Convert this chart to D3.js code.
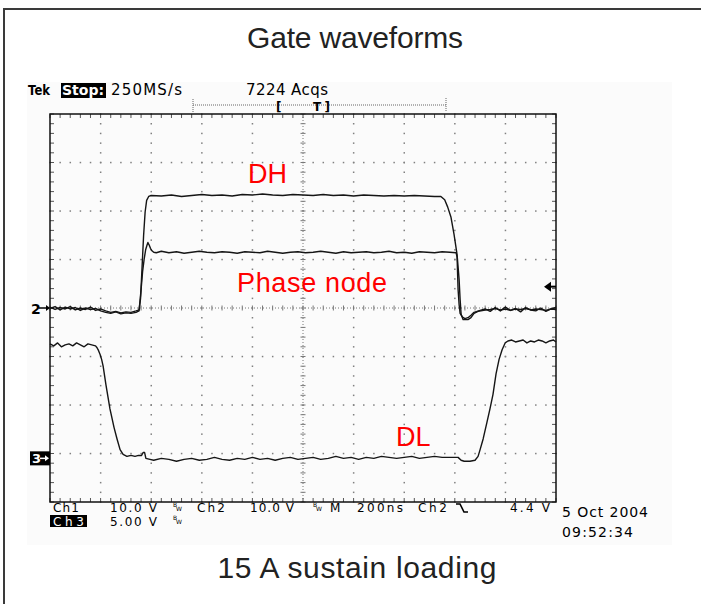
<!DOCTYPE html>
<html><head><meta charset="utf-8">
<script src="https://cdn.jsdelivr.net/npm/d3@7"></script>
<style>html,body{margin:0;padding:0;background:#fff;} svg{display:block}</style>
</head><body>
<svg id="c" width="701" height="604"></svg>
<script>
// ---- Data (time in ns, voltage in V) ----
const timeDomain = [0, 2000];          // 200 ns/div, 10 divisions
const divDomain = [-4, 4];             // 8 vertical divisions
const voltsPerDiv = {ch1: 10, ch2: 10, ch3: 5};
const groundDiv = {ch1: 0, ch2: 0, ch3: -3.1};
const triggerLevel = 4.4;              // V on Ch2

// DH (Ch1, high-side gate)
const dhTrace = [
 [0,0.2],[20,-0.3],[40,0.1],[60,-0.2],[80,0.3],[100,-0.4],[120,0.0],[140,-0.3],[160,0.2],[180,-0.5],
 [200,-0.2],[220,-0.6],[240,-0.9],[260,-0.7],[280,-1.0],[300,-0.8],[320,-0.9],[340,-0.6],
 [352,-0.4],[358,2.0],[364,8.5],[370,15.0],[376,19.8],[382,22.2],[390,23.0],[400,23.2],
 [440,23.1],[480,23.3],[520,23.0],[560,23.2],[600,23.4],[640,23.2],[680,23.3],[720,23.1],[760,23.4],[800,23.3],
 [840,23.5],[880,23.3],[920,23.2],[960,23.4],[1000,23.3],[1040,23.2],[1080,23.4],[1120,23.2],[1160,23.3],[1200,23.1],
 [1240,23.3],[1280,23.2],[1320,23.1],[1360,23.2],[1400,23.1],[1440,23.2],[1480,23.1],[1520,23.0],
 [1545,23.0],[1560,22.3],[1572,20.8],[1585,18.7],[1597,15.2],[1609,11.0],[1617,5.9],[1621,1.8],[1625,-1.3],
 [1633,-2.4],[1652,-2.4],[1664,-2.0],[1676,-1.1],[1692,-0.7],[1720,-0.4],
 [1740,-0.3],[1760,-0.1],[1780,-0.4],[1800,-0.2],[1820,-0.5],[1840,-0.2],[1860,-0.3],[1880,-0.1],[1900,-0.4],
 [1920,-0.2],[1940,-0.3],[1960,-0.5],[1980,-0.2],[2000,-0.3]
];
// Phase node (Ch2)
const phaseTrace = [
 [0,-0.1],[20,0.3],[40,-0.4],[60,0.2],[80,-0.2],[100,0.1],[120,-0.5],[140,0.0],[160,-0.3],[180,-0.1],
 [200,-0.6],[220,-0.9],[240,-1.1],[260,-0.8],[280,-1.2],[300,-1.0],[320,-1.1],[340,-0.9],
 [352,-0.6],[360,3.8],[366,7.5],[372,10.0],[378,12.0],[383,12.9],[387,13.5],[392,13.0],[397,12.3],[403,11.8],[410,11.5],[420,11.4],
 [440,11.7],[470,11.4],[500,11.6],[530,11.3],[560,11.5],[590,11.7],[620,11.5],[650,11.4],[680,11.6],[710,11.5],
 [740,11.3],[770,11.6],[800,11.5],[830,11.4],[860,11.7],[890,11.5],[920,11.3],[950,11.5],[980,11.6],[1010,11.4],
 [1040,11.5],[1070,11.7],[1100,11.5],[1130,11.3],[1160,11.6],[1190,11.4],[1220,11.5],[1250,11.6],[1280,11.4],[1310,11.5],
 [1340,11.7],[1370,11.4],[1400,11.5],[1430,11.3],[1460,11.6],[1490,11.5],[1520,11.4],[1550,11.6],[1580,11.5],
 [1605,11.4],[1609,10.5],[1613,3.8],[1617,0.7],[1621,-1.1],[1629,-1.8],[1640,-2.2],[1652,-2.0],[1664,-1.5],[1676,-0.9],[1700,-0.5],
 [1720,-0.2],[1740,-0.7],[1760,0.1],[1780,-0.6],[1800,0.2],[1820,-0.5],[1840,-0.1],[1860,-0.8],[1880,0.1],[1900,-0.4],
 [1920,-0.6],[1940,0.0],[1960,-0.7],[1980,-0.2],[2000,0.1]
];
// DL (Ch3, low-side gate)
const dlTrace = [
 [0,11.8],[15,11.6],[30,11.9],[45,11.5],[60,11.7],[75,11.8],[90,11.6],[105,11.9],[120,11.7],[135,11.5],[150,11.8],[165,11.7],[180,11.6],
 [186,11.4],[192,11.1],[198,10.7],[204,10.2],[210,9.5],[221,7.6],[237,5.1],[253,3.2],[265,2.0],[277,0.9],[289,0.4],
 [304,0.2],[320,0.3],[336,0.2],[350,0.3],[362,0.3],[368,0.6],[374,0.6],[379,0.0],[395,-0.1],
 [410,-0.2],[440,0.0],[470,-0.1],[500,-0.3],[530,-0.1],[560,0.0],[590,-0.2],[620,-0.1],[650,0.1],[680,-0.1],
 [710,-0.2],[740,0.0],[770,-0.1],[800,0.1],[830,-0.1],[860,0.0],[890,-0.2],[920,0.0],[950,0.1],[980,-0.1],
 [1010,0.0],[1040,0.1],[1070,-0.1],[1100,0.0],[1130,0.2],[1160,0.0],[1190,0.1],[1220,-0.1],[1250,0.1],[1280,0.0],
 [1310,0.2],[1340,0.1],[1370,0.0],[1400,0.1],[1430,0.2],[1460,0.0],[1490,0.1],[1520,0.2],[1550,0.1],[1580,0.1],
 [1605,0.1],[1613,0.1],[1625,-0.2],[1637,-0.3],[1660,-0.3],[1680,-0.2],[1692,0.2],[1700,0.9],[1712,2.0],[1727,3.7],
 [1739,5.1],[1751,6.6],[1763,8.7],[1775,10.2],[1787,11.2],[1799,11.9],[1810,12.1],
 [1825,12.2],[1840,12.0],[1855,12.1],[1870,12.2],[1885,11.9],[1900,12.1],[1915,12.0],[1930,12.2],[1945,12.1],[1960,11.9],[1975,12.1],[1990,12.2],[2000,12.0]
];

const traceLabels = ["DH", "Phase node", "DL"];
const titleText = "Gate waveforms";
const captionText = "15 A sustain loading";
const headerTexts = ["Tek", "Stop:", "250MS/s", "7224 Acqs"];
const footerRow1 = ["Ch1", "10.0 V", "Ch2", "10.0 V", "M", "200ns", "Ch2", "4.4 V"];
const footerRow2 = ["Ch3", "5.00 V"];
const dateTexts = ["5 Oct 2004", "09:52:34"];

// ---- Drawing ----
const svg = d3.select("#c");
const x = d3.scaleLinear().domain(timeDomain).range([50, 556]);
const y = d3.scaleLinear().domain(divDomain).range([502, 114]);
const toDiv = (ch, v) => groundDiv[ch] + v / voltsPerDiv[ch];

// frame
svg.append("rect").attr("x",27).attr("y",82).attr("width",645).attr("height",463).attr("fill","#fbfbfb");
svg.append("path").attr("d","M4,604 V9 H701").attr("fill","none").attr("stroke","#3a3a3a").attr("stroke-width",2);

const g = svg.append("g");
const majorT = d3.range(0, 11).map(i => timeDomain[0] + i * 200);
const minorT = d3.range(0, 51).map(i => i * 40);
const majorD = d3.range(-4, 5);
const minorD = d3.range(0, 41).map(i => -4 + i * 0.2);

// graticule dots
majorT.filter(t => t > 0 && t < 2000 && t !== 1000).forEach(t => {
  minorD.forEach(d => g.append("rect").attr("x", x(t) - 0.7).attr("y", y(d) - 0.7).attr("width",1.5).attr("height",1.5).attr("fill","#808080"));
});
majorD.filter(d => d > -4 && d < 4 && d !== 0).forEach(d => {
  minorT.forEach(t => g.append("rect").attr("x", x(t) - 0.7).attr("y", y(d) - 0.7).attr("width",1.5).attr("height",1.5).attr("fill","#808080"));
});
// center lines
g.append("line").attr("x1",x(0)).attr("x2",x(2000)).attr("y1",y(0)).attr("y2",y(0)).attr("stroke","#777").attr("stroke-width",1).attr("stroke-dasharray","1,2");
g.append("line").attr("x1",x(1000)).attr("x2",x(1000)).attr("y1",y(-4)).attr("y2",y(4)).attr("stroke","#777").attr("stroke-width",1).attr("stroke-dasharray","1,2");
minorT.forEach(t => g.append("line").attr("x1",x(t)).attr("x2",x(t)).attr("y1",y(0)-2.5).attr("y2",y(0)+2.5).attr("stroke","#777"));
minorD.forEach(d => g.append("line").attr("x1",x(1000)-2.5).attr("x2",x(1000)+2.5).attr("y1",y(d)).attr("y2",y(d)).attr("stroke","#777"));
// border ticks
minorT.forEach(t => {
  g.append("line").attr("x1",x(t)).attr("x2",x(t)).attr("y1",y(4)).attr("y2",y(4)+4).attr("stroke","#555");
  g.append("line").attr("x1",x(t)).attr("x2",x(t)).attr("y1",y(-4)).attr("y2",y(-4)-4).attr("stroke","#555");
});
minorD.forEach(d => {
  g.append("line").attr("x1",x(0)).attr("x2",x(0)+4).attr("y1",y(d)).attr("y2",y(d)).attr("stroke","#555");
  g.append("line").attr("x1",x(2000)).attr("x2",x(2000)-4).attr("y1",y(d)).attr("y2",y(d)).attr("stroke","#555");
});
g.append("rect").attr("x",x(0)).attr("y",y(4)).attr("width",x(2000)-x(0)).attr("height",y(-4)-y(4)).attr("fill","none").attr("stroke","#111").attr("stroke-width",1.5);

// traces
const traces = [["ch1", dhTrace], ["ch2", phaseTrace], ["ch3", dlTrace]];
traces.forEach(([ch, data]) => {
  const line = d3.line().x(d => x(d[0])).y(d => y(toDiv(ch, d[1])));
  svg.append("path").datum(data).attr("d", line).attr("fill","none").attr("stroke","#151515").attr("stroke-width",1.4).attr("stroke-linejoin","round");
});

// red labels
const red = "#f00";
const lf = "Liberation Sans, Arial, sans-serif";
svg.append("text").attr("x",248).attr("y",183).attr("font-family",lf).attr("font-size",27).attr("fill",red).text(traceLabels[0]);
svg.append("text").attr("x",237).attr("y",292).attr("font-family",lf).attr("font-size",27).attr("fill",red).attr("textLength",150).text(traceLabels[1]);
svg.append("text").attr("x",396).attr("y",446).attr("font-family",lf).attr("font-size",27).attr("fill",red).text(traceLabels[2]);

// title & caption
svg.append("text").attr("x",355).attr("y",48).attr("text-anchor","middle").attr("font-family",lf).attr("font-size",30).attr("fill","#222").attr("textLength",216).text(titleText);
svg.append("text").attr("x",357).attr("y",578).attr("text-anchor","middle").attr("font-family",lf).attr("font-size",30).attr("fill","#222").attr("textLength",279).text(captionText);

// scope text
const sf = "DejaVu Sans, Liberation Sans, sans-serif";
function st(tx, xx, yy, opts = {}) {
  const t = svg.append("text").attr("x",xx).attr("y",yy).attr("font-family",sf).attr("font-size",opts.size || 14)
    .attr("font-weight",opts.weight || "normal").attr("fill",opts.fill || "#000").text(tx);
  if (opts.len) t.attr("textLength",opts.len).attr("lengthAdjust",opts.adj || "spacing");
  if (opts.anchor) t.attr("text-anchor",opts.anchor);
  return t;
}
st(headerTexts[0], 28, 95, {weight:"bold", size:14, len:22, adj:"spacingAndGlyphs"});
svg.append("rect").attr("x",61).attr("y",83).attr("width",45).attr("height",15).attr("fill","#000");
st(headerTexts[1], 62, 95, {weight:"bold", fill:"#fff", size:14, len:42, adj:"spacingAndGlyphs"});
st(headerTexts[2], 111, 95, {size:15, len:71});
st(headerTexts[3], 246, 95, {size:15, len:82});
// record / trigger position bar
svg.append("line").attr("x1",193).attr("x2",446).attr("y1",105).attr("y2",105).attr("stroke","#666").attr("stroke-dasharray","1,1");
svg.append("line").attr("x1",193).attr("x2",193).attr("y1",99).attr("y2",112).attr("stroke","#666").attr("stroke-dasharray","1,1");
svg.append("line").attr("x1",446).attr("x2",446).attr("y1",98).attr("y2",112).attr("stroke","#666").attr("stroke-dasharray","1,1");
st("[", 276, 111, {weight:"bold", size:12});
st("T]", 313, 111, {weight:"bold", size:12, len:17});

// footer
const fs = 12;
st(footerRow1[0], 53, 511.5, {size:fs, len:26});
st(footerRow1[1], 110, 511.5, {size:fs, len:47});
st(footerRow1[2], 197, 511.5, {size:fs, len:28});
st(footerRow1[3], 250, 511.5, {size:fs, len:44});
st(footerRow1[4], 330, 511.5, {size:fs, len:12});
st(footerRow1[5], 357, 511.5, {size:fs, len:46});
st(footerRow1[6], 418, 511.5, {size:fs, len:29});
st(footerRow1[7], 510, 511.5, {size:fs, len:40});
svg.append("path").attr("d","M456,504 H460 L464,512 H468").attr("fill","none").attr("stroke","#000").attr("stroke-width",1.6);
svg.append("rect").attr("x",50).attr("y",515).attr("width",37).attr("height",12).attr("fill","#000");
st(footerRow2[0], 53, 526, {size:fs, fill:"#fff", len:31});
st(footerRow2[1], 110, 526, {size:fs, len:47});
// BW marks (small stacked B over W)
[[173,507],[313,507],[173,520]].forEach(([bx,by]) => {
  const t = svg.append("text").attr("x",bx).attr("y",by).attr("font-family",sf).attr("font-size",6).attr("fill","#000");
  t.append("tspan").text("B");
  t.append("tspan").attr("dx",-1).attr("dy",4).text("W");
});
st(dateTexts[0], 562, 517, {size:14, len:86});
st(dateTexts[1], 562, 537, {size:14, len:71});

// channel ground markers
st("2", 31, 314, {weight:"bold", size:14});
svg.append("line").attr("x1",39).attr("x2",47).attr("y1",y(0)).attr("y2",y(0)).attr("stroke","#000").attr("stroke-width",1.5);
svg.append("path").attr("d",`M50,${y(0)} l-4,-3 v6 z`).attr("fill","#000");
const y3 = y(groundDiv.ch3);
svg.append("rect").attr("x",30).attr("y",y3-7).attr("width",20).attr("height",14).attr("fill","#000");
st("3", 32, y3 + 5, {weight:"bold", fill:"#fff", size:13});
svg.append("line").attr("x1",40).attr("x2",46).attr("y1",y3).attr("y2",y3).attr("stroke","#fff").attr("stroke-width",1.5);
svg.append("path").attr("d",`M49,${y3} l-4,-3 v6 z`).attr("fill","#fff");
// trigger level marker (Ch2)
const yt = y(toDiv("ch2", triggerLevel));
svg.append("path").attr("d",`M544,${yt} L551,${yt-5} L551,${yt+5} Z`).attr("fill","#000");
svg.append("line").attr("x1",550).attr("x2",556).attr("y1",yt).attr("y2",yt).attr("stroke","#000").attr("stroke-width",2);
</script>
</body></html>
